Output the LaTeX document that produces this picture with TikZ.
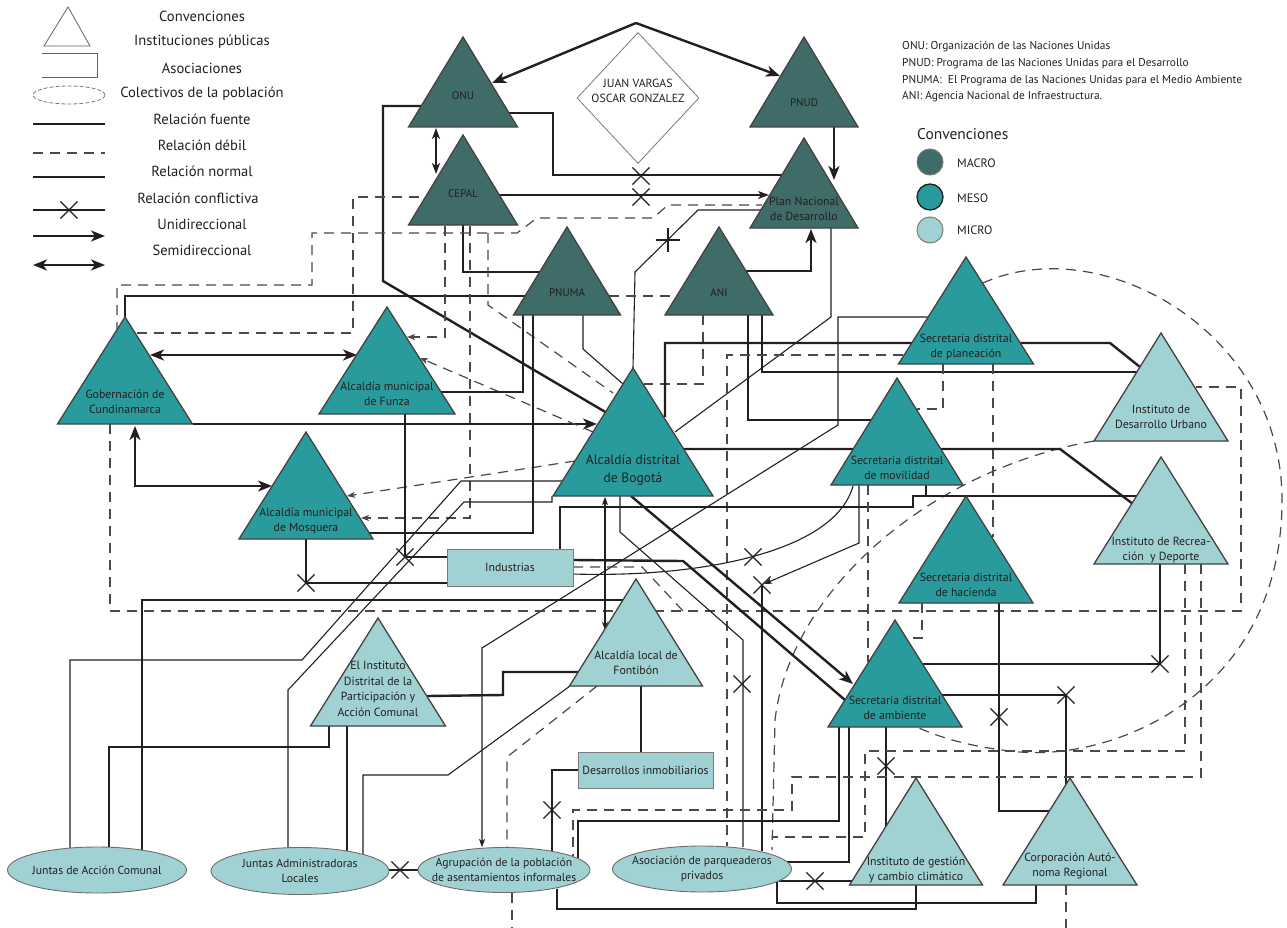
\documentclass[tikz,border=0pt]{standalone}
\usepackage{fontspec}
\setmainfont{PT Sans}
\usetikzlibrary{arrows.meta,shapes.geometric,shapes.misc}
\definecolor{macro}{RGB}{63,107,104}
\definecolor{meso}{RGB}{42,155,157}
\definecolor{micro}{RGB}{160,210,211}
\definecolor{ink}{RGB}{35,31,32}
\definecolor{dashc}{RGB}{75,72,72}
\pgfdeclarelayer{lines}
\pgfsetlayers{lines,main}
\newcommand\fTri{\fontsize{11.8}{15.5}\selectfont}
\newcommand\fBog{\fontsize{13.5}{18}\selectfont}
\newcommand\fSm{\fontsize{11}{14}\selectfont}
\newcommand\fLeg{\fontsize{14.6}{16}\selectfont}
\newcommand\fEll{\fontsize{11.7}{15.5}\selectfont}
\newcommand\Tri[9]{%
  \node[tribox, minimum width={2*#6}, minimum height={#5-#4}] (#1) at (#3,{(#4+#5)/2}) {};
  \filldraw[fill=#2, draw=ink!85, line width=1.3pt, line join=miter] (#1.south west) -- (#1.south east) -- (#1.north) -- cycle;
  \node[lbl, #8] (#1-t) at (#3,#7) {#9};
}
\newcommand\Ell[6]{%
  \node[ell, minimum width=#4, minimum height=#5] (#1) at (#2,#3) {};
  \node[lbl, font=\fEll] (#1-t) at (#2,#3) {#6};
}
\newcommand\Xm[2]{\node[xm] (#1) at (#2) {};}
\tikzset{
  tribox/.style={inner sep=0pt, outer sep=0pt},
  lbl/.style={font=\fTri, align=center, text=ink, inner sep=0pt},
  fuente/.style={draw=ink, line width=2.4pt},
  normal/.style={draw=ink, line width=1.1pt},
  debil/.style={draw=dashc, line width=1.2pt, dash pattern=on 10pt off 7pt},
  uni/.style={-{Stealth[length=14pt,width=11pt,inset=4pt]}},
  semi/.style={{Stealth[length=14pt,width=11pt,inset=4pt]}-{Stealth[length=14pt,width=11pt,inset=4pt]}},
  unim/.style={-{Stealth[length=11pt,width=8pt,inset=3pt]}},
  unis/.style={-{Stealth[length=8pt,width=6pt,inset=2pt]}},
  semis/.style={{Stealth[length=8pt,width=6pt,inset=2pt]}-{Stealth[length=8pt,width=6pt,inset=2pt]}},
  xm/.style={cross out, draw=ink, line width=1.1pt, minimum size=16pt, inner sep=0pt},
  ell/.style={ellipse, draw=ink!65, line width=0.9pt, fill=micro, inner sep=0pt},
  box/.style={draw=ink!60, line width=0.9pt, fill=micro, inner sep=0pt, align=center, font=\fTri, text=ink},
  legtxt/.style={font=\fLeg, text=ink, inner sep=0pt},
}
\begin{document}
\begin{tikzpicture}[x=1pt,y=-1pt]
\useasboundingbox (0,0) rectangle (1287,928);

% ---------------- legend (left) ----------------
\draw[ink!70, line width=0.8pt] (44,46) -- (90,46) -- (68,7) -- cycle;
\draw[ink!70, line width=0.8pt] (42,53) -- (97,53) -- (97,77) -- (42,77);
\node[ellipse, draw=ink!60, dash pattern=on 4pt off 2pt, line width=0.8pt, minimum width=72, minimum height=18, inner sep=0pt] (legell) at (69,95) {};
\coordinate (lA1) at (33,124); \coordinate (lA2) at (105,124);
\draw[fuente] (lA1) -- (lA2);
\coordinate (lB1) at (33,153); \coordinate (lB2) at (105,153);
\draw[debil] (lB1) -- (lB2);
\coordinate (lC1) at (33,177); \coordinate (lC2) at (105,177);
\draw[normal] (lC1) -- (lC2);
\coordinate (lD1) at (33,210); \coordinate (lD2) at (105,210);
\draw[normal] (lD1) -- (lD2);
\Xm{legx}{69,210}
\coordinate (lE1) at (33,236); \coordinate (lE2) at (105,236);
\draw[fuente, uni] (lE1) -- (lE2);
\coordinate (lF1) at (33,265); \coordinate (lF2) at (105,265);
\draw[fuente, semi] (lF1) -- (lF2);
\node[legtxt] (lt1) at (202,16) {Convenciones};
\node[legtxt] (lt2) at (202,42) {Instituciones públicas};
\node[legtxt] (lt3) at (202,68) {Asociaciones};
\node[legtxt] (lt4) at (202,94) {Colectivos de la población};
\node[legtxt] (lt5) at (202,119) {Relación fuente};
\node[legtxt] (lt6) at (202,145) {Relación débil};
\node[legtxt] (lt7) at (202,171) {Relación normal};
\node[legtxt] (lt8) at (198,198) {Relación conflictiva};
\node[legtxt] (lt9) at (202,224) {Unidireccional};
\node[legtxt] (lt10) at (202,250) {Semidireccional};

% ---------------- legend (right) ----------------
\node[anchor=west, inner sep=0pt, font=\fontsize{11.4}{16.6}\selectfont, align=left, text=ink] (abbr) at (902,72)
  {ONU: Organización de las Naciones Unidas\\
   PNUD: Programa de las Naciones Unidas para el Desarrollo\\
   PNUMA:\ \ El Programa de las Naciones Unidas para el Medio Ambiente\\
   ANI: Agencia Nacional de Infraestructura.};
\node[legtxt, anchor=west, font=\fontsize{15.5}{17}\selectfont] (conv2) at (917,134) {Convenciones};
\node[circle, fill=macro, draw=ink!60, line width=1pt, minimum size=26pt, inner sep=0pt] (cmacro) at (930,162) {};
\node[circle, fill=meso, draw=ink, line width=1.3pt, minimum size=26pt, inner sep=0pt] (cmeso) at (930,197) {};
\node[circle, fill=micro, draw=ink!60, line width=1pt, minimum size=26pt, inner sep=0pt] (cmicro) at (930,230) {};
\node[anchor=west, inner sep=0pt, font=\fontsize{12.2}{14}\selectfont, text=ink] (tmacro) at (957,163) {MACRO};
\node[anchor=west, inner sep=0pt, font=\fontsize{12.2}{14}\selectfont, text=ink] (tmeso) at (957,198) {MESO};
\node[anchor=west, inner sep=0pt, font=\fontsize{12.2}{14}\selectfont, text=ink] (tmicro) at (957,230) {MICRO};

% ---------------- diamond ----------------
\node[diamond, draw=ink!60, fill=white, line width=0.8pt, minimum width=122, minimum height=131, inner sep=0pt] (jv) at (638,98) {};
\node[lbl] (jv-t) at (638,91) {JUAN VARGAS\\OSCAR GONZALEZ};
\coordinate (jvtop) at (636,23);

% ---------------- triangles ----------------
\Tri{onu}{macro}{463}{37}{127}{54.5}{96}{font=\fSm}{ONU}
\Tri{pnud}{macro}{804}{37}{127}{54}{103}{font=\fSm}{PNUD}
\Tri{cepal}{macro}{463}{135}{225}{54.5}{194}{font=\fSm}{CEPAL}
\Tri{plan}{macro}{804}{138}{228}{54}{209}{}{Plan Nacional\\de Desarrollo}
\Tri{pnuma}{macro}{567}{227}{315}{53.5}{293}{font=\fSm}{PNUMA}
\Tri{ani}{macro}{719}{227}{315}{54}{293}{font=\fSm}{ANI}
\Tri{gob}{meso}{125}{317}{424}{67.5}{402}{}{Gobernación de\\Cundinamarca}
\Tri{funza}{meso}{387}{307}{414}{68}{394}{}{Alcaldía municipal\\de Funza}
\Tri{mosq}{meso}{306}{432}{539}{67}{521}{}{Alcaldía municipal\\de Mosquera}
\Tri{bog}{meso}{633}{368}{496}{80}{470}{font=\fBog}{Alcaldía distrital\\de Bogotá}
\Tri{plane}{meso}{966}{257}{364}{67.5}{347}{}{Secretaria distrital\\de planeación}
\Tri{movi}{meso}{897}{378}{485}{66}{468}{}{Secretaria distrital\\de movilidad}
\Tri{hac}{meso}{966}{496}{603}{67}{585}{}{Secretaria distrital\\de hacienda}
\Tri{idu}{micro}{1161}{333}{441}{67}{417}{}{Instituto de\\Desarrollo Urbano}
\Tri{recr}{micro}{1161}{457}{564}{67}{550}{}{Instituto de Recrea-\\ción\ \ y Deporte}
\Tri{amb}{meso}{895}{620}{727}{67}{708}{}{Secretaria distrital\\de ambiente}
\Tri{font}{micro}{636}{579}{686}{66.5}{663}{}{Alcaldía local de\\Fontibón}
\Tri{idpac}{micro}{378}{618}{726}{67.5}{689}{}{El Instituto\\Distrital de la\\Participación y\\Acción Comunal}
\Tri{gest}{micro}{916}{778}{885}{66.5}{870}{}{Instituto de gestión\\y cambio climático}
\Tri{corp}{micro}{1070}{778}{885}{67}{866}{}{Corporación Autó-\\noma Regional}

% ---------------- rectangles and ellipses ----------------
\node[box, minimum width=126, minimum height=37] (ind) at (510,567.5) {Industrias};
\node[box, minimum width=135, minimum height=36] (des) at (645.5,770) {Desarrollos inmobiliarios};
\Ell{jac}{97}{870}{179}{46}{Juntas de Acción Comunal}
\Ell{jal}{300}{871}{178}{47}{Juntas Administradoras\\Locales}
\Ell{agr}{504}{870}{172}{45}{Agrupación de la población\\de asentamientos informales}
\Ell{aso}{702}{869}{179}{46}{Asociación de parqueaderos\\privados}

% ---------------- connectors ----------------
\begin{pgfonlayer}{lines}
\fill[white] (0,0) rectangle (1287,928);
% big dashed arc and curve
\draw[debil] (983,283) .. controls (1100,230) and (1282,330) .. (1282,500)
  .. controls (1282,690) and (1120,760) .. (1020,752) .. controls (975,748) and (940,738) .. (917,727);
\draw[debil] (idu.south west) .. controls (930,470) and (790,590) .. (775,720) -- (772,850);
% diamond to ONU / PNUD
\draw[fuente, uni] (jvtop) -- (492,83);
\draw[fuente, uni] (jvtop) -- (780,76);
\draw[fuente, uni] (834,127) -- (834,180);
\draw[fuente, {Stealth[length=11pt,width=8pt,inset=3pt]}-{Stealth[length=11pt,width=8pt,inset=3pt]}] (436,128) -- (436,174);
\draw[fuente] (421,106) -- (383,106) -- (383,281) -- (607,413);
\draw[fuente] (463,225) -- (463,272) -- (540,272);
\draw[fuente, uni] (746,271) -- (811,271) -- (811,229);
\draw[normal] (508,113) -- (553,113) -- (553,175) -- (782,175);
\draw[normal, unim] (499,195) -- (769,195);
\draw[normal] (762,210) -- (698,210) -- (635,272) -- (633,368);
\draw[debil] (117,332) -- (117,285) -- (312,285) -- (312,233) -- (517,233) -- (537,218) -- (653,218) -- (668,205) -- (762,205);
\draw[debil] (137,333) -- (353,333) -- (353,197) -- (424,197);
\draw[normal] (gob.north) -- (125,296) -- (525,296);
\draw[fuente, semi] (150,355) -- (357,355);
\draw[fuente, semi] (135,426) -- (135,486) -- (272,486);
\draw[fuente, uni] (193,424) -- (597,424);
\draw[debil, unis] (445,226) -- (445,337) -- (407,337);
\draw[debil, unis] (470,226) -- (470,518) -- (361,518);
\draw[debil] (488,233) -- (488,305) -- (613,393);
\draw[debil, unis] (593,432) -- (420,358);
\draw[debil, unis] (575,461) -- (347,496);
\draw[normal] (523,315) -- (523,392) -- (441,392);
\draw[normal] (533,315) -- (533,533) -- (369,533);
\draw[normal] (583,315) -- (583,349) -- (623,384);
\draw[debil] (609,296) -- (677,296);
\draw[debil] (703,315) -- (703,384) -- (644,384);
\draw[normal] (748,315) -- (748,420) -- (871,420);
\draw[normal] (762,315) -- (762,372) -- (1137,372);
\draw[normal] (831,228) -- (831,317) -- (675,432);
\draw[normal, unis] (929,317) -- (838,317) -- (838,425) -- (482,648) -- (482,847);
\draw[fuente] (665,417) -- (665,343) -- (1110,343) -- (1140,367);
\draw[debil] (903,355) -- (727,355) -- (727,846);
\draw[debil] (943,364) -- (943,409) -- (917,409);
\draw[debil] (993,364) -- (993,537);
\draw[debil] (110,424) -- (110,611) -- (1241,611) -- (1241,387) -- (1196,387);
\draw[fuente] (684,449) -- (1060,449) -- (1133,504);
\draw[normal] (560,549) -- (560,507) -- (913,507) -- (913,496) -- (1138,496);
\draw[normal] (926,485) -- (926,496);
\draw[normal] (573,574) .. controls (700,578) and (835,552) .. (853,486);
\draw[normal, unis] (859,485) -- (859,543) -- (764,584);
\draw[normal] (762,584) -- (762,851);
\draw[fuente, uni] (631,496) -- (853,684);
\draw[fuente] (573,560) -- (683,561) -- (845,700);
\draw[normal] (620,496) -- (620,532) -- (743,640) -- (743,847);
\draw[normal, semis] (605,497) -- (605,630);
\draw[normal] (405,414) -- (405,557) -- (447,557);
\draw[normal] (306,539) -- (306,583) -- (447,583);
\draw[debil] (573,567) -- (642,567) -- (683,611);
\draw[normal] (70,848) -- (70,660) -- (302,660) -- (461,481) -- (562,481);
\draw[normal] (288,849) -- (288,690) -- (464,502) -- (552,502) -- (552,496);
\draw[normal] (142,850) -- (142,600) -- (624,600);
\draw[fuente] (329,726) -- (329,747) -- (109,747) -- (109,848);
\draw[normal] (347,726) -- (347,851);
\draw[fuente] (427,696) -- (503,695) -- (503,672) -- (578,672);
\draw[normal] (570,686) -- (448,775) -- (363,775) -- (363,855);
\draw[normal] (641,686) -- (641,752);
\draw[normal] (578,770) -- (552,770) -- (552,851);
\draw[debil] (597,686) -- (507,757) -- (507,847);
\draw[debil] (512,893) -- (512,928);
\draw[fuente] (839,727) -- (839,821) -- (578,821) -- (578,858);
\draw[fuente] (849,727) -- (849,862) -- (787,862);
\draw[normal] (886,727) -- (886,827);
\draw[normal] (942,695) -- (1066,695) -- (1066,785);
\draw[normal] (922,664) -- (1160,664) -- (1160,564);
\draw[normal] (999,603) -- (999,811) -- (1049,811);
\draw[debil] (922,603) -- (922,638) -- (907,638);
\draw[debil] (868,485) -- (868,662);
\draw[debil] (1185,564) -- (1185,751) -- (865,751) -- (865,837) -- (772,837);
\draw[debil] (1201,564) -- (1201,777) -- (792,777) -- (792,810) -- (573,810) -- (573,856);
\draw[normal] (779,881) -- (852,881);
\draw[normal] (777,880) -- (777,903) -- (1036,903) -- (1036,885);
\draw[normal] (557,889) -- (557,909) -- (916,909) -- (916,885);
\draw[debil] (1066,885) -- (1066,928);
\draw[normal] (389,870) -- (419,870);
\end{pgfonlayer}

% ---------------- conflict marks ----------------
\Xm{x1}{641,176}
\Xm{x2}{641,197}
\node[xm, rotate=45] (x3) at (668,240) {};
\Xm{x4}{405,557}
\Xm{x5}{306,583}
\Xm{x6}{753,557}
\Xm{x7}{762,585}
\Xm{x8}{742,684}
\Xm{x9}{552,810}
\Xm{x10}{400,870}
\Xm{x11}{815,881}
\Xm{x12}{886,766}
\Xm{x13}{999,717}
\Xm{x14}{1066,695}
\Xm{x15}{1160,664}
\end{tikzpicture}
\end{document}
